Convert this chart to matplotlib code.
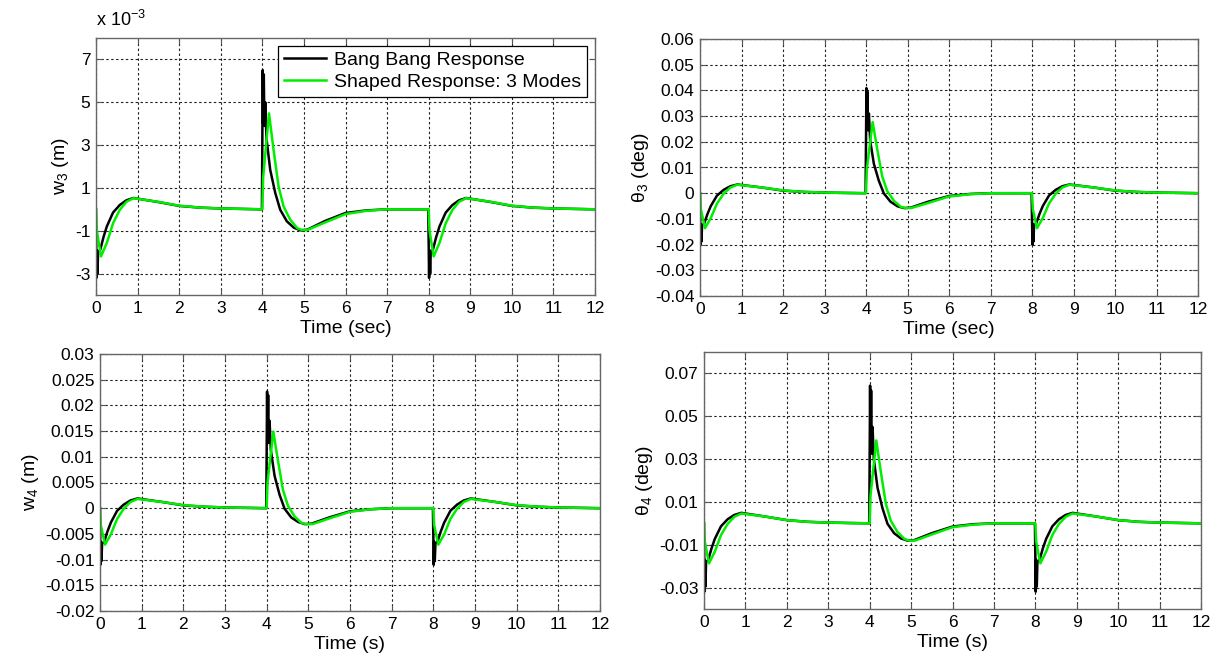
import numpy as np
import matplotlib
matplotlib.use("Agg")
import matplotlib.pyplot as plt
from matplotlib.ticker import FuncFormatter

plt.rcParams['font.family'] = ['Liberation Sans', 'DejaVu Sans']
plt.rcParams['mathtext.fontset'] = 'custom'
plt.rcParams['mathtext.rm'] = 'Liberation Sans'
plt.rcParams['mathtext.it'] = 'Liberation Sans:italic'

# time samples (sec)
t_bang = [0.0, 0.01, 0.02, 0.035, 0.05, 0.1, 0.18, 0.26, 0.41, 0.57, 0.73, 0.9, 1.5, 2.0, 2.5, 3.0, 3.5, 3.99,
          4.01, 4.02, 4.035, 4.05, 4.07, 4.1, 4.19, 4.31, 4.43, 4.59, 4.76, 4.92, 5.08, 5.5, 6.0, 6.5, 7.0, 7.99,
          8.01, 8.02, 8.035, 8.05, 8.1, 8.18, 8.26, 8.41, 8.57, 8.73, 8.9, 9.5, 10.0, 10.5, 11.0, 12.0]
t_shaped = [0.0, 0.02, 0.12, 0.26, 0.41, 0.57, 0.73, 0.9, 1.5, 2.0, 2.5, 3.0, 3.5, 4.0,
            4.02, 4.16, 4.27, 4.39, 4.51, 4.67, 4.84, 4.96, 5.1, 5.5, 6.0, 6.5, 7.0, 8.0,
            8.02, 8.12, 8.26, 8.41, 8.57, 8.73, 8.9, 9.5, 10.0, 10.5, 11.0, 12.0]

# w3 in units of 1e-3 m
w3_bang = [0.0, -3.2, -1.9, -3.0, -2.0, -1.9, -1.3, -0.8, -0.15, 0.2, 0.42, 0.53, 0.34, 0.16, 0.08, 0.04, 0.02, 0.0,
           6.5, 4.0, 6.3, 3.9, 5.0, 3.3, 1.84, 0.77, -0.02, -0.56, -0.86, -0.98, -0.95, -0.55, -0.17, -0.05, 0.0, 0.0,
           -3.2, -1.9, -3.0, -2.0, -1.9, -1.3, -0.8, -0.15, 0.2, 0.42, 0.53, 0.34, 0.16, 0.08, 0.04, 0.0]
w3_shaped = [0.0, -1.0, -2.2, -1.57, -0.65, -0.03, 0.35, 0.52, 0.35, 0.17, 0.08, 0.04, 0.02, 0.0,
             1.5, 4.48, 2.78, 1.07, 0.14, -0.48, -0.88, -0.97, -0.95, -0.62, -0.22, -0.07, 0.0, 0.0,
             -1.0, -2.2, -1.57, -0.65, -0.03, 0.35, 0.52, 0.35, 0.17, 0.08, 0.04, 0.0]

# theta3 (deg)
th3_bang = [0.0, -0.0200, -0.0120, -0.0188, -0.0125, -0.0118, -0.0081, -0.0050, -0.0009, 0.0013, 0.0027, 0.0034,
            0.0022, 0.0010, 0.0005, 0.00025, 0.0001, 0.0,
            0.0409, 0.0250, 0.0395, 0.0245, 0.0310, 0.0205, 0.0114, 0.0048, -0.0001, -0.0033, -0.0051, -0.0058,
            -0.0056, -0.0033, -0.0011, -0.0003, 0.0, 0.0,
            -0.0200, -0.0120, -0.0188, -0.0125, -0.0118, -0.0081, -0.0050, -0.0009, 0.0013, 0.0027, 0.0034,
            0.0022, 0.0010, 0.0005, 0.00025, 0.0]
th3_shaped = [0.0, -0.0062, -0.0136, -0.0097, -0.0040, -0.0002, 0.0022, 0.0033, 0.0022, 0.0011, 0.0005, 0.00025,
              0.0001, 0.0,
              0.0093, 0.0277, 0.0172, 0.0066, 0.0009, -0.0029, -0.0053, -0.0058, -0.0057, -0.0038, -0.0013,
              -0.0004, 0.0, 0.0,
              -0.0062, -0.0136, -0.0097, -0.0040, -0.0002, 0.0022, 0.0033, 0.0022, 0.0011, 0.0005, 0.00025, 0.0]

# w4 (m)
w4_bang = [0.0, -0.0110, -0.0065, -0.0103, -0.0069, -0.0065, -0.0045, -0.0028, -0.0005, 0.0007, 0.0015, 0.0019,
           0.0012, 0.00055, 0.00028, 0.00014, 0.00007, 0.0,
           0.0227, 0.0130, 0.0220, 0.0127, 0.0170, 0.0113, 0.0063, 0.0026, -0.0001, -0.0018, -0.0027, -0.0031,
           -0.0030, -0.0018, -0.0006, -0.0002, 0.0, 0.0,
           -0.0110, -0.0065, -0.0103, -0.0069, -0.0065, -0.0045, -0.0028, -0.0005, 0.0007, 0.0015, 0.0019,
           0.0012, 0.00055, 0.00028, 0.00014, 0.0]
w4_shaped = [0.0, -0.0033, -0.0071, -0.0051, -0.0021, -0.0001, 0.0012, 0.0018, 0.0012, 0.0006, 0.0003, 0.00014,
             0.00007, 0.0,
             0.0050, 0.0149, 0.0093, 0.0036, 0.0005, -0.0016, -0.0029, -0.0031, -0.0031, -0.0020, -0.0007,
             -0.0002, 0.0, 0.0,
             -0.0033, -0.0071, -0.0051, -0.0021, -0.0001, 0.0012, 0.0018, 0.0012, 0.0006, 0.0003, 0.00014, 0.0]

# theta4 (deg)
th4_bang = [0.0, -0.0319, -0.0170, -0.0295, -0.0180, -0.0172, -0.0118, -0.0073, -0.0014, 0.0019, 0.0039, 0.0049,
            0.0031, 0.0015, 0.0007, 0.00035, 0.00015, 0.0,
            0.0643, 0.0330, 0.0620, 0.0325, 0.0450, 0.0300, 0.0166, 0.0070, -0.0002, -0.0046, -0.0071, -0.0081,
            -0.0078, -0.0046, -0.0015, -0.0004, 0.0, 0.0,
            -0.0319, -0.0170, -0.0295, -0.0180, -0.0172, -0.0118, -0.0073, -0.0014, 0.0019, 0.0039, 0.0049,
            0.0031, 0.0015, 0.0007, 0.00035, 0.0]
th4_shaped = [0.0, -0.0085, -0.0187, -0.0133, -0.0055, -0.0003, 0.0030, 0.0046, 0.0031, 0.0015, 0.0007, 0.00035,
              0.00015, 0.0,
              0.0130, 0.0387, 0.0240, 0.0092, 0.0012, -0.0040, -0.0073, -0.0081, -0.0080, -0.0052, -0.0018,
              -0.0006, 0.0, 0.0,
              -0.0085, -0.0187, -0.0133, -0.0055, -0.0003, 0.0030, 0.0046, 0.0031, 0.0015, 0.0007, 0.00035, 0.0]

x_ticks = list(range(0, 13))

W, H = 1222, 658
fig = plt.figure(figsize=(W / 100, H / 100), dpi=100)


def px_axes(left, top, right, bottom):
    return fig.add_axes([left / W, (H - bottom) / H, (right - left) / W, (bottom - top) / H])


def style(ax, ylim, yticks, ylabel, xlabel):
    ax.set_xlim(0, 12)
    ax.set_ylim(*ylim)
    ax.set_xticks(x_ticks)
    ax.set_yticks(yticks)
    ax.yaxis.set_major_formatter(FuncFormatter(lambda v, p: f"{round(v, 6):g}"))
    ax.grid(True, color='#222222', linestyle=(0, (2.2, 2.2)), linewidth=0.8)
    ax.tick_params(direction='in', top=True, right=True, length=4, width=0.8,
                   labelsize=12.5, color='#555555', pad=4)
    for s in ax.spines.values():
        s.set_color('#666666')
        s.set_linewidth(1.0)
    ax.set_ylabel(ylabel, fontsize=14, labelpad=3)
    ax.set_xlabel(xlabel, fontsize=14, labelpad=3)


panels = [
    ((96, 38, 595, 295), t_bang, w3_bang, t_shaped, w3_shaped, (-4, 8), [-3, -1, 1, 3, 5, 7],
     'w$_3$ (m)', 'Time (sec)'),
    ((700, 39, 1198, 296), t_bang, th3_bang, t_shaped, th3_shaped, (-0.04, 0.06),
     np.arange(-0.04, 0.0601, 0.01), 'θ$_3$ (deg)', 'Time (sec)'),
    ((100, 354, 600, 611), t_bang, w4_bang, t_shaped, w4_shaped, (-0.02, 0.03),
     np.arange(-0.02, 0.0301, 0.005), 'w$_4$ (m)', 'Time (s)'),
    ((704, 352, 1201, 609), t_bang, th4_bang, t_shaped, th4_shaped, (-0.04, 0.08),
     [-0.03, -0.01, 0.01, 0.03, 0.05, 0.07], 'θ$_4$ (deg)', 'Time (s)'),
]

axes = []
for box, tb, yb, ts, ys, ylim, yt, ylab, xlab in panels:
    ax = px_axes(*box)
    ax.plot(tb, yb, color='black', linewidth=1.8, label='Bang Bang Response')
    ax.plot(ts, ys, color='#00ee00', linewidth=1.8, label='Shaped Response: 3 Modes')
    style(ax, ylim, yt, ylab, xlab)
    axes.append(ax)

axes[0].text(0.0, 1.03, 'x 10$^{-3}$', transform=axes[0].transAxes, fontsize=13,
             ha='left', va='bottom')
leg = axes[0].legend(loc='upper right', fontsize=14, fancybox=False, framealpha=1,
                     edgecolor='black', handlelength=2.2, borderpad=0.3, labelspacing=0.2,
                     handletextpad=0.4, borderaxespad=0.4)
leg.get_frame().set_linewidth(0.9)

fig.savefig('out.png', dpi=100)
